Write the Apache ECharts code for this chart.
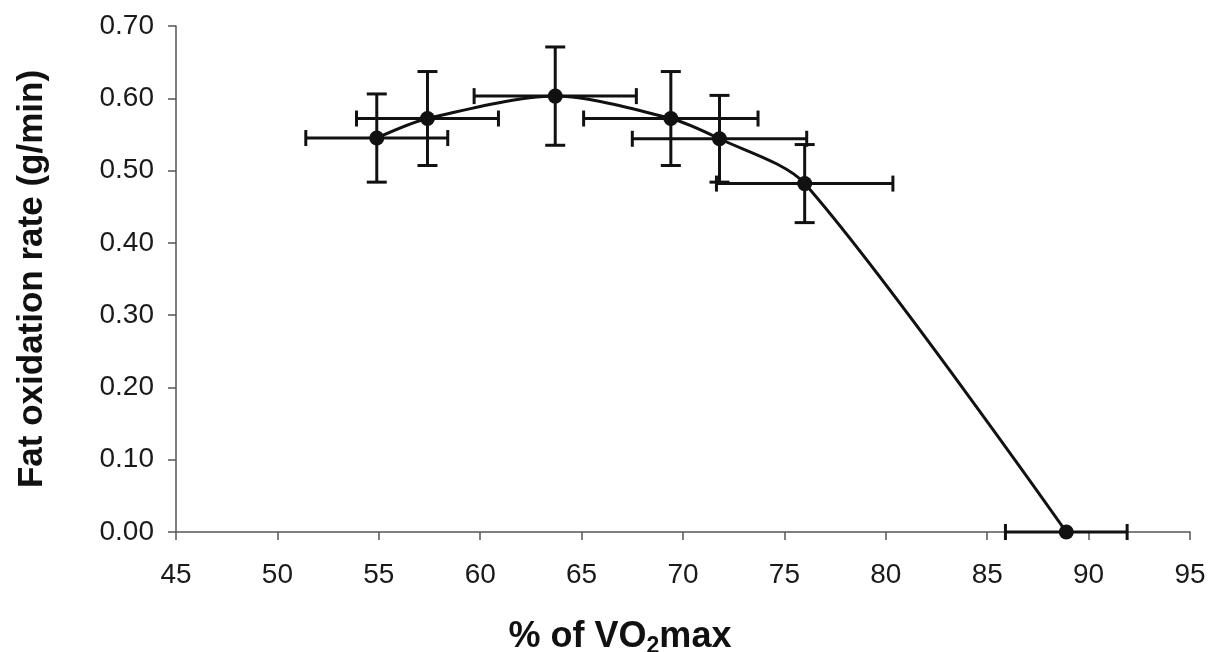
<!DOCTYPE html>
<html>
<head>
<meta charset="utf-8">
<title>Fat oxidation rate vs % of VO2max</title>
<script src="https://cdn.jsdelivr.net/npm/echarts@6/dist/echarts.min.js"></script>
<style>
  html, body { margin: 0; padding: 0; background: #fff; }
  #chart { width: 1210px; height: 652px; }
</style>
</head>
<body>
<div id="chart"></div>
<script>
// Exercise intensity (% of VO2max) and mean fat oxidation rate (g/min)
var intensity = [54.9, 57.4, 63.7, 69.4, 71.8, 76.0, 88.9];
var fatOxidation = [0.545, 0.572, 0.603, 0.572, 0.544, 0.482, 0.00];
// Standard deviations in each direction
var intensitySD = [3.5, 3.5, 4.0, 4.3, 4.3, 4.35, 3.0];
var fatOxidationSD = [0.061, 0.065, 0.068, 0.065, 0.060, 0.054, 0];
// Axis ticks
var xTicks = { min: 45, max: 95, step: 5 };
var yTicks = { min: 0, max: 0.7, step: 0.1 };

var points = intensity.map(function (x, i) { return [x, fatOxidation[i]]; });
var errorData = intensity.map(function (x, i) {
  return [x, fatOxidation[i], intensitySD[i], fatOxidationSD[i]];
});

var FONT = '"Liberation Sans", Arial, Helvetica, sans-serif';
var INK = '#111';

function errorBars(params, api) {
  var x = api.value(0), y = api.value(1);
  var sx = api.value(2), sy = api.value(3);
  var style = { stroke: INK, lineWidth: 3 };
  var kids = [];
  var capV = 8, capH = 10;
  if (sx > 0) {
    var l = api.coord([x - sx, y]), r = api.coord([x + sx, y]);
    kids.push({ type: 'line', shape: { x1: l[0], y1: l[1], x2: r[0], y2: r[1] }, style: style });
    kids.push({ type: 'line', shape: { x1: l[0], y1: l[1] - capV, x2: l[0], y2: l[1] + capV }, style: style });
    kids.push({ type: 'line', shape: { x1: r[0], y1: r[1] - capV, x2: r[0], y2: r[1] + capV }, style: style });
  }
  if (sy > 0) {
    var t = api.coord([x, y + sy]), b = api.coord([x, y - sy]);
    kids.push({ type: 'line', shape: { x1: t[0], y1: t[1], x2: b[0], y2: b[1] }, style: style });
    kids.push({ type: 'line', shape: { x1: t[0] - capH, y1: t[1], x2: t[0] + capH, y2: t[1] }, style: style });
    kids.push({ type: 'line', shape: { x1: b[0] - capH, y1: b[1], x2: b[0] + capH, y2: b[1] }, style: style });
  }
  return { type: 'group', children: kids };
}

var chart = echarts.init(document.getElementById('chart'), null, { renderer: 'canvas' });

chart.setOption({
  animation: false,
  backgroundColor: '#ffffff',
  grid: { left: 176, right: 20, top: 26, bottom: 120, containLabel: false, outerBoundsMode: 'none' },
  xAxis: {
    type: 'value',
    min: xTicks.min, max: xTicks.max, interval: xTicks.step,
    name: '{a|% of VO}{s|2}{a|max}',
    nameLocation: 'middle',
    nameGap: 84,
    nameTextStyle: {
      padding: [0, 126, 0, 0],
      rich: {
        a: { fontFamily: FONT, fontWeight: 'bold', fontSize: 36, color: INK, lineHeight: 42 },
        s: { fontFamily: FONT, fontWeight: 'bold', fontSize: 23, color: INK, lineHeight: 22, verticalAlign: 'bottom' }
      }
    },
    axisLine: { lineStyle: { color: '#555', width: 1.5 } },
    axisTick: { show: true, length: 8, lineStyle: { color: '#555', width: 1.5 } },
    axisLabel: { fontFamily: FONT, fontSize: 28, color: '#1a1a1a', margin: 29 },
    splitLine: { show: false }
  },
  yAxis: {
    type: 'value',
    min: yTicks.min, max: yTicks.max, interval: yTicks.step,
    name: 'Fat oxidation rate (g/min)',
    nameLocation: 'middle',
    nameGap: 126,
    nameTextStyle: { fontFamily: FONT, fontWeight: 'bold', fontSize: 35, color: INK },
    axisLine: { show: true, lineStyle: { color: '#555', width: 1.5 } },
    axisTick: { show: true, length: 8, lineStyle: { color: '#555', width: 1.5 } },
    axisLabel: {
      fontFamily: FONT, fontSize: 28, color: '#1a1a1a', margin: 22,
      formatter: function (v) { return v.toFixed(2); }
    },
    splitLine: { show: false }
  },
  series: [
    {
      type: 'custom',
      renderItem: errorBars,
      data: errorData,
      z: 2,
      silent: true
    },
    {
      type: 'line',
      data: points,
      smooth: 0.28,
      lineStyle: { color: INK, width: 3 },
      symbol: 'circle',
      symbolSize: 15,
      showAllSymbol: true,
      itemStyle: { color: INK },
      z: 3
    }
  ]
});
</script>
</body>
</html>
